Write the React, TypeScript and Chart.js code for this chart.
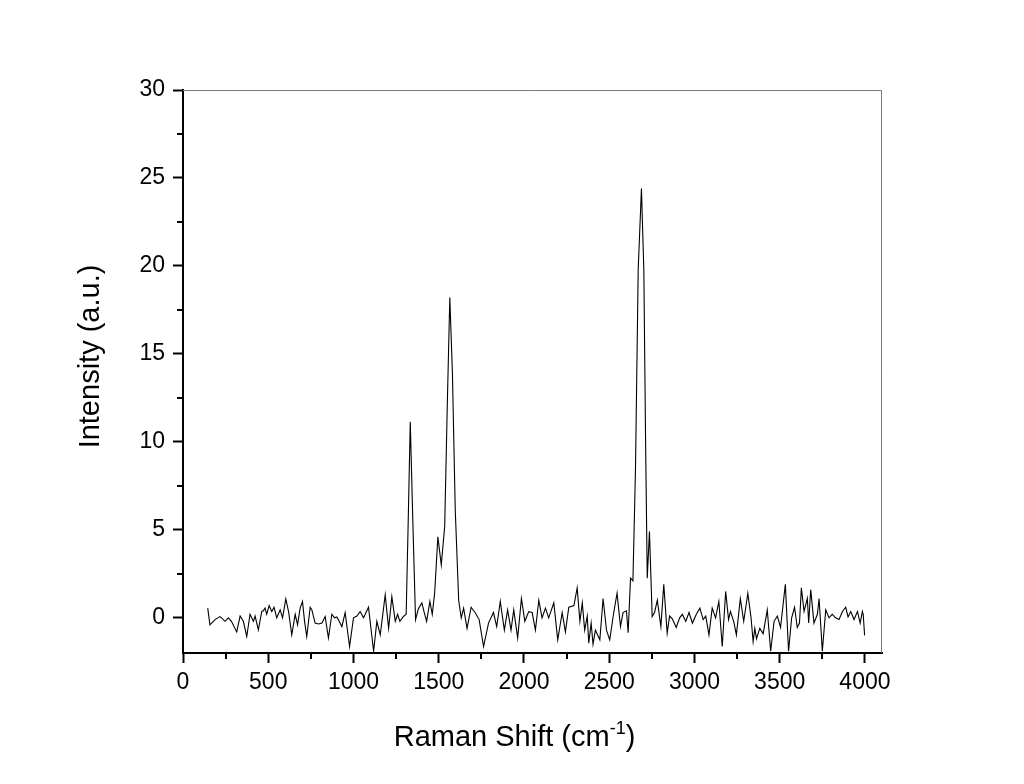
import React, { useEffect, useRef } from "react";
import { Chart, registerables } from "chart.js";

Chart.register(...registerables);

// Raman shift positions (cm^-1)
const ramanShift: number[] = [
  145, 158, 188, 217, 247, 266, 284, 315, 335, 354, 374, 393, 413, 423, 442, 462, 471, 481, 491, 505,
  521, 534, 550, 570, 584, 603, 619, 638, 658, 672, 687, 701, 713, 726, 746, 756, 775, 795, 815, 834,
  853, 873, 889, 902, 916, 932, 951, 977, 1000, 1020, 1039, 1059, 1088, 1118, 1137, 1157, 1186, 1206, 1225, 1245,
  1259, 1272, 1292, 1309, 1321, 1333, 1348, 1364, 1380, 1401, 1415, 1429, 1448, 1462, 1476, 1495, 1515, 1535, 1550, 1565,
  1580, 1597, 1617, 1632, 1646, 1666, 1690, 1713, 1737, 1763, 1792, 1821, 1840, 1861, 1885, 1904, 1924, 1940, 1963, 1985,
  2005, 2028, 2048, 2067, 2087, 2106, 2126, 2145, 2175, 2198, 2224, 2243, 2263, 2293, 2312, 2328, 2342, 2356, 2371, 2380,
  2394, 2405, 2419, 2445, 2464, 2484, 2503, 2525, 2546, 2566, 2581, 2601, 2611, 2625, 2639, 2654, 2670, 2689, 2703, 2713,
  2723, 2736, 2752, 2766, 2782, 2803, 2820, 2840, 2854, 2870, 2893, 2913, 2929, 2949, 2968, 2988, 3011, 3032, 3051, 3066,
  3085, 3104, 3124, 3143, 3163, 3183, 3200, 3211, 3230, 3246, 3269, 3289, 3313, 3332, 3344, 3354, 3364, 3383, 3403, 3427,
  3447, 3467, 3486, 3505, 3533, 3552, 3570, 3587, 3603, 3616, 3627, 3643, 3662, 3670, 3682, 3701, 3721, 3731, 3750, 3770,
  3789, 3808, 3828, 3848, 3868, 3887, 3901, 3917, 3936, 3956, 3972, 3985, 3990, 3998,
];

// Intensity (a.u.)
const intensity: number[] = [
  0.55, -0.4, -0.1, 0.07, -0.2, 0.0, -0.2, -0.8, 0.1, -0.2, -1.06, 0.2, -0.2, 0.1, -0.68, 0.36, 0.4, 0.55, 0.2, 0.7,
  0.36, 0.6, 0.0, 0.45, 0.0, 1.08, 0.36, -0.97, 0.2, -0.4, 0.55, 0.93, -0.2, -1.06, 0.6, 0.45, -0.3, -0.35, -0.3, 0.07,
  -1.15, 0.2, 0.0, 0.05, -0.2, -0.5, 0.3, -1.63, 0.0, 0.1, 0.36, 0.0, 0.6, -1.9, -0.2, -0.97, 1.3, -0.6, 1.2, -0.2,
  0.2, -0.2, 0.07, 0.2, 5.5, 11.15, 5.5, -0.1, 0.5, 0.85, 0.3, -0.2, 0.93, 0.2, 1.4, 4.6, 3.0, 5.2, 12.0, 18.2,
  14.0, 6.1, 1.0, 0.0, 0.55, -0.6, 0.6, 0.3, -0.1, -1.63, -0.3, 0.3, -0.5, 0.93, -0.7, 0.45, -0.7, 0.45, -1.15, 1.1,
  -0.2, 0.35, 0.3, -0.7, 1.0, 0.0, 0.55, 0.0, 0.85, -1.25, 0.3, -0.8, 0.6, 0.7, 1.7, -0.2, 0.85, -0.7, 0.1, -1.44,
  -0.3, -1.5, -0.7, -1.25, 1.1, -0.7, -1.25, 0.2, 1.4, -0.5, 0.3, 0.4, -0.85, 2.25, 2.1, 8.4, 19.8, 24.4, 19.8, 10.3,
  2.25, 4.9, 0.07, 0.3, 1.0, -0.5, 1.9, -0.87, 0.1, -0.06, -0.55, 0.0, 0.2, -0.2, 0.3, -0.3, 0.2, 0.55, -0.1, 0.1,
  -0.97, 0.55, 0.0, 0.93, -1.63, 1.5, -0.1, 0.36, -0.2, -0.97, 1.1, -0.2, 1.4, 0.0, -1.35, -0.6, -1.2, -0.6, -0.9, 0.45,
  -1.9, -0.2, 0.1, -0.55, 1.9, -1.9, 0.0, 0.6, -0.55, -0.3, 1.7, 0.36, 1.1, -0.3, 1.6, -0.3, 0.2, 1.1, -1.9, 0.45,
  0.0, 0.2, 0.0, -0.1, 0.36, 0.6, 0.05, 0.36, -0.1, 0.36, -0.3, 0.36, 0.17, -1.0,
];

const xMajorTicks: number[] = [0, 500, 1000, 1500, 2000, 2500, 3000, 3500, 4000];
const xMinorTicks: number[] = [250, 750, 1250, 1750, 2250, 2750, 3250, 3750];
const yMajorTicks: number[] = [0, 5, 10, 15, 20, 25, 30];
const yMinorTicks: number[] = [2.5, 7.5, 12.5, 17.5, 22.5, 27.5];

const xTitleMain = "Raman Shift (cm";
const xTitleSup = "-1";
const xTitleEnd = ")";
const yTitle = "Intensity (a.u.)";

const FONT = '"Liberation Sans", Arial, sans-serif';

const framePlugin = {
  id: "originFrame",
  afterDraw(chart: any) {
    const { ctx, chartArea: a, scales } = chart;
    const xs = scales.x;
    const ys = scales.y;
    ctx.save();
    // top and right frame lines
    ctx.strokeStyle = "#7a7a7a";
    ctx.lineWidth = 1;
    ctx.beginPath();
    ctx.moveTo(a.left, a.top + 0.5);
    ctx.lineTo(a.right - 0.5, a.top + 0.5);
    ctx.lineTo(a.right - 0.5, a.bottom);
    ctx.stroke();
    // minor ticks
    ctx.strokeStyle = "#000";
    ctx.lineWidth = 2;
    ctx.beginPath();
    for (const v of xMinorTicks) {
      const px = Math.round(xs.getPixelForValue(v));
      ctx.moveTo(px, a.bottom);
      ctx.lineTo(px, a.bottom + 6);
    }
    for (const v of yMinorTicks) {
      const py = Math.round(ys.getPixelForValue(v));
      ctx.moveTo(a.left - 6, py);
      ctx.lineTo(a.left, py);
    }
    ctx.stroke();

    // axis titles
    ctx.fillStyle = "#000";
    ctx.textBaseline = "alphabetic";
    ctx.textAlign = "left";
    const mainFont = `29px ${FONT}`;
    const supFont = `18px ${FONT}`;
    ctx.font = mainFont;
    const w1 = ctx.measureText(xTitleMain).width;
    const w3 = ctx.measureText(xTitleEnd).width;
    ctx.font = supFont;
    const w2 = ctx.measureText(xTitleSup).width;
    const total = w1 + w2 + w3;
    const cx = (a.left + a.right) / 2 - 18;
    const base = a.bottom + 93;
    let x0 = cx - total / 2;
    ctx.font = mainFont;
    ctx.fillText(xTitleMain, x0, base);
    x0 += w1;
    ctx.font = supFont;
    ctx.fillText(xTitleSup, x0, base - 12);
    x0 += w2;
    ctx.font = mainFont;
    ctx.fillText(xTitleEnd, x0, base);

    ctx.translate(91, (a.top + a.bottom) / 2 - 15);
    ctx.rotate(-Math.PI / 2);
    ctx.textAlign = "center";
    ctx.textBaseline = "middle";
    ctx.font = mainFont;
    ctx.fillText(yTitle, 0, 0);
    ctx.restore();
  },
};

export default function App() {
  const canvasRef = useRef<HTMLCanvasElement | null>(null);

  useEffect(() => {
    document.body.style.margin = "0";
    const canvas = canvasRef.current;
    if (!canvas) return;
    const chart = new Chart(canvas, {
      type: "line",
      data: {
        datasets: [
          {
            data: ramanShift.map((x, i) => ({ x, y: intensity[i] })),
            borderColor: "#000",
            borderWidth: 1.1,
            pointRadius: 0,
            tension: 0,
            fill: false,
          },
        ],
      },
      options: {
        responsive: false,
        animation: false,
        devicePixelRatio: 1,
        layout: { padding: { top: 90, right: 142, left: 0, bottom: 0 } },
        plugins: { legend: { display: false }, tooltip: { enabled: false }, title: { display: false } },
        scales: {
          x: {
            type: "linear",
            position: "bottom",
            min: 0,
            max: 4100,
            afterBuildTicks: (s: any) => {
              s.ticks = xMajorTicks.map((v) => ({ value: v }));
            },
            afterFit: (s: any) => {
              s.height = 131;
            },
            ticks: {
              autoSkip: false,
              maxRotation: 0,
              padding: 6,
              color: "#000",
              font: { family: FONT, size: 23 },
              callback: (v: any) => String(v),
            },
            grid: { drawOnChartArea: false, drawTicks: true, tickLength: 10, tickWidth: 2, tickColor: "#000" },
            border: { display: true, color: "#000", width: 2 },
          },
          y: {
            type: "linear",
            position: "left",
            min: -2,
            max: 30,
            afterBuildTicks: (s: any) => {
              s.ticks = yMajorTicks.map((v) => ({ value: v }));
            },
            afterFit: (s: any) => {
              s.width = 183;
            },
            ticks: {
              autoSkip: false,
              padding: 8,
              color: "#000",
              font: { family: FONT, size: 23 },
              callback: (v: any) => String(v),
            },
            grid: { drawOnChartArea: false, drawTicks: true, tickLength: 10, tickWidth: 2, tickColor: "#000" },
            border: { display: true, color: "#000", width: 2 },
          },
        },
      },
      plugins: [framePlugin],
    });
    return () => chart.destroy();
  }, []);

  return (
    <div style={{ width: 1024, height: 784, background: "#fff" }}>
      <canvas ref={canvasRef} width={1024} height={784} />
    </div>
  );
}
